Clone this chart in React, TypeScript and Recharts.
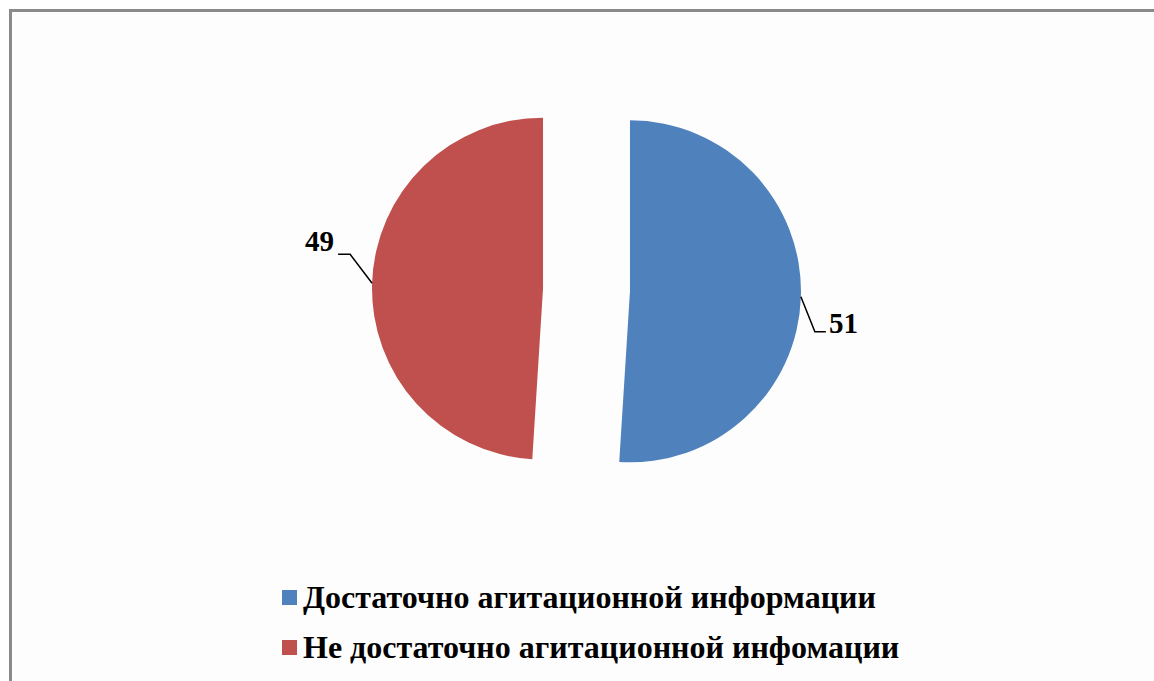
import { PieChart, Pie, Cell, Sector, Legend } from 'recharts'

const categories = ['Достаточно агитационной информации', 'Не достаточно агитационной инфомации']
const values = [51, 49]
const colors = ['#4f81bd', '#c0504d']

const data = categories.map((name, i) => ({ name, value: values[i] }))

const RAD = Math.PI / 180
const EXPLODE = 43.5
const FONT = '"Liberation Serif", "Times New Roman", serif'

const explodedCenter = (cx: number, cy: number, midAngle: number) => ({
  x: cx + EXPLODE * Math.cos(-midAngle * RAD),
  y: cy + EXPLODE * Math.sin(-midAngle * RAD),
})

const ExplodedSector = (props: any) => {
  const c = explodedCenter(props.cx, props.cy, props.midAngle)
  return <Sector {...props} cx={c.x} cy={c.y} />
}

// data label with an elbowed leader line, like Excel's
const renderLabel = (props: any) => {
  const { cx, cy, midAngle, outerRadius, value } = props
  const c = explodedCenter(cx, cy, midAngle)
  const ax = c.x + outerRadius * Math.cos(-midAngle * RAD)
  const ay = c.y + outerRadius * Math.sin(-midAngle * RAD)
  const right = Math.cos(-midAngle * RAD) >= 0
  if (right) {
    return (
      <g>
        <path d={`M${ax},${ay} L${ax + 14},${ay + 35} L${ax + 25},${ay + 35}`} stroke="#000" strokeWidth={1.5} fill="none" />
        <text x={ax + 28} y={ay + 36} fontFamily={FONT} fontWeight="bold" fontSize={29} fill="#000">
          {value}
        </text>
      </g>
    )
  }
  return (
    <g>
      <path d={`M${ax},${ay} L${ax - 22},${ay - 29} L${ax - 34},${ay - 29}`} stroke="#000" strokeWidth={1.5} fill="none" />
      <text x={ax - 38} y={ay - 32} textAnchor="end" fontFamily={FONT} fontWeight="bold" fontSize={29} fill="#000">
        {value}
      </text>
    </g>
  )
}

const renderLegend = () => (
  <div style={{ fontFamily: FONT, fontWeight: 'bold', fontSize: 32, color: '#000' }}>
    {categories.map((name, i) => (
      <div key={name} style={{ display: 'flex', alignItems: 'center', height: 50 }}>
        <span style={{ display: 'inline-block', width: 15, height: 15, background: colors[i], marginRight: 6 }} />
        <span>{name}</span>
      </div>
    ))}
  </div>
)

export default function App() {
  return (
    <div style={{ position: 'absolute', left: 0, top: 0, width: 1154, height: 681, overflow: 'hidden', background: '#fff' }}>
      <div
        style={{
          position: 'absolute',
          left: 9,
          top: 9,
          width: 1160,
          height: 700,
          borderTop: '3px solid #8a8a8a',
          borderLeft: '3px solid #8a8a8a',
          background: '#fdfdfd',
        }}
      />
      <div style={{ position: 'absolute', left: 0, top: 0 }}>
        <PieChart width={1154} height={681} margin={{ top: 0, right: 0, bottom: 0, left: 0 }}>
          <Pie
            data={data}
            dataKey="value"
            nameKey="name"
            cx={586.5}
            cy={290}
            outerRadius={171}
            startAngle={90}
            endAngle={-270}
            stroke="none"
            isAnimationActive={false}
            shape={ExplodedSector}
            label={renderLabel}
            labelLine={false}
          >
            {data.map((d, i) => (
              <Cell key={d.name} fill={colors[i]} />
            ))}
          </Pie>
          <Legend
            content={renderLegend}
            layout="horizontal"
            verticalAlign="bottom"
            align="center"
            wrapperStyle={{ left: 282, top: 572, width: 700, bottom: 'auto' }}
          />
        </PieChart>
      </div>
    </div>
  )
}
